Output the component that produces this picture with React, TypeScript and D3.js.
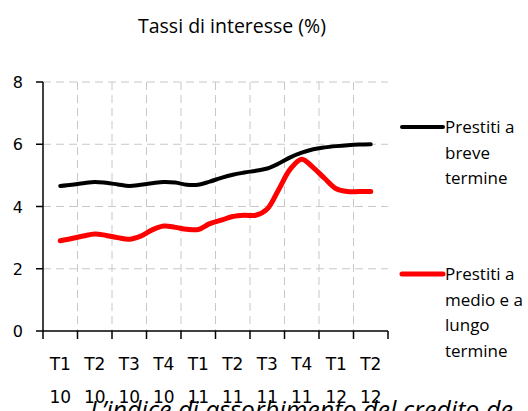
import React from "react";
import * as d3 from "d3";

const quarters = ["T1", "T2", "T3", "T4", "T1", "T2", "T3", "T4", "T1", "T2"];
const years = ["10", "10", "10", "10", "11", "11", "11", "11", "12", "12"];
const yTicks = [0, 2, 4, 6, 8];

// monthly observations (Jan 2010 – Apr 2012)
const breve = [4.66, 4.7, 4.75, 4.79, 4.76, 4.71, 4.66, 4.7, 4.75, 4.79, 4.77, 4.7, 4.7, 4.8, 4.92, 5.02, 5.09, 5.15, 5.22, 5.38, 5.58, 5.73, 5.84, 5.9, 5.94, 5.97, 5.99, 6.0];
const medioLungo = [2.9, 2.97, 3.05, 3.12, 3.07, 3.0, 2.95, 3.05, 3.25, 3.37, 3.33, 3.27, 3.26, 3.45, 3.56, 3.68, 3.72, 3.72, 3.92, 4.55, 5.2, 5.52, 5.25, 4.9, 4.57, 4.48, 4.48, 4.48];

const seriesNames = [["Prestiti a", "breve", "termine"], ["Prestiti a", "medio e a", "lungo", "termine"]];
const seriesColors = ["#000000", "#ff0000"];
const title = "Tassi di interesse (%)";
const footnote = "L’indice di assorbimento del credito de";

export default function App() {
  const W = 528, H = 411;
  const left = 43, right = 388, top = 82, bottom = 331;
  const idx = quarters.map((_, i) => String(i));
  const xBand = d3.scaleBand<string>().domain(idx).range([left, right]).padding(0);
  const bw = xBand.bandwidth();
  const y = d3.scaleLinear().domain([0, 8]).range([bottom, top]);
  const n = breve.length;
  const xPt = d3.scaleLinear().domain([0, n - 1]).range([left + bw / 2, right - bw / 2]);
  const line = d3.line<number>().x((_, i) => xPt(i)).y((d) => y(d)).curve(d3.curveCatmullRom.alpha(0.5));
  const axisFont = "DejaVu Sans, sans-serif";
  const textFont = "Open Sans, sans-serif";
  const series = [breve, medioLungo];
  const legendY = [127, 274];

  return (
    <svg width={W} height={H} style={{ position: "absolute", left: 0, top: 0, background: "#fff" }}>
      <text x={232} y={33} textAnchor="middle" fontFamily={textFont} fontSize={19.5} fill="#000">{title}</text>
      {/* grid */}
      {yTicks.filter((t) => t > 0).map((t) => (
        <line key={"h" + t} x1={left} x2={right} y1={y(t)} y2={y(t)} stroke="#c8c8c8" strokeWidth={1} strokeDasharray="8,5" />
      ))}
      {idx.slice(1).map((c) => (
        <line key={"v" + c} x1={xBand(c)!} x2={xBand(c)!} y1={top} y2={bottom} stroke="#c8c8c8" strokeWidth={1} strokeDasharray="8,5" />
      ))}
      {/* axes */}
      <line x1={left} x2={left} y1={top} y2={bottom} stroke="#000" strokeWidth={1.5} />
      <line x1={left} x2={right} y1={bottom} y2={bottom} stroke="#000" strokeWidth={1.5} />
      {yTicks.map((t) => (
        <g key={"yt" + t}>
          <line x1={left - 7} x2={left} y1={y(t)} y2={y(t)} stroke="#000" strokeWidth={1.5} />
          <text x={23} y={y(t) + 6} textAnchor="end" fontFamily={axisFont} fontSize={16} fill="#000">{t}</text>
        </g>
      ))}
      {[...idx, "end"].map((c, i) => {
        const xx = c === "end" ? right : xBand(c)!;
        return <line key={"xt" + i} x1={xx} x2={xx} y1={bottom} y2={bottom + 8} stroke="#000" strokeWidth={1.5} />;
      })}
      {idx.map((c, i) => (
        <g key={"xl" + c}>
          <text x={xBand(c)! + bw / 2} y={370} textAnchor="middle" fontFamily={axisFont} fontSize={17} fill="#000">{quarters[i]}</text>
          <text x={xBand(c)! + bw / 2} y={403} textAnchor="middle" fontFamily={axisFont} fontSize={17} fill="#000">{years[i]}</text>
        </g>
      ))}
      {/* series */}
      {series.map((s, k) => (
        <path key={"s" + k} d={line(s)!} fill="none" stroke={seriesColors[k]} strokeWidth={k === 0 ? 4 : 5} strokeLinejoin="round" strokeLinecap="round" />
      ))}
      {/* legend */}
      {seriesNames.map((names, k) => (
        <g key={"lg" + k}>
          <line x1={402} x2={443} y1={legendY[k]} y2={legendY[k]} stroke={seriesColors[k]} strokeWidth={k === 0 ? 4 : 5} strokeLinecap="round" />
          {names.map((nm, j) => (
            <text key={j} x={445} y={legendY[k] + 6 + j * 25.5} fontFamily={textFont} fontSize={17} fill="#000">{nm}</text>
          ))}
        </g>
      ))}
      <text x={90} y={419} fontFamily={textFont} fontStyle="italic" fontSize={25} fill="#000">{footnote}</text>
    </svg>
  );
}
